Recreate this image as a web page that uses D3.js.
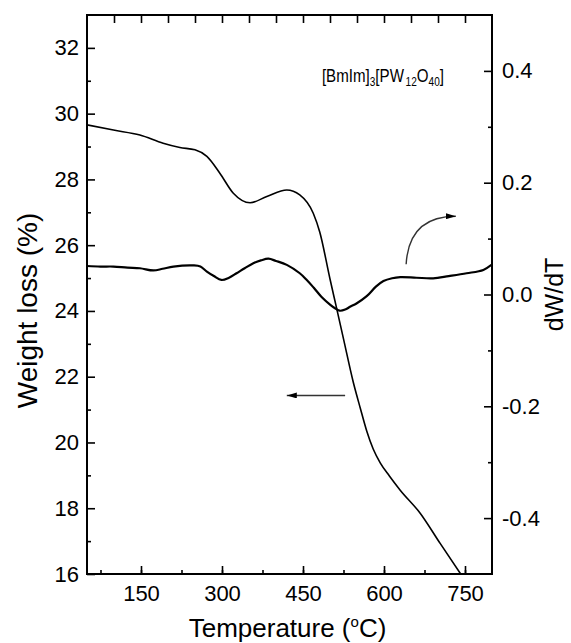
<!DOCTYPE html>
<html>
<head>
<meta charset="utf-8">
<script src="https://cdn.jsdelivr.net/npm/d3@7"></script>
<style>
  body { margin: 0; background: #fff; }
  text { font-family: "Liberation Sans", Arial, sans-serif; fill: #000; }
</style>
</head>
<body>
<div id="chart"></div>
<script>
// weight loss curve (left axis)
var wTemp = [50, 99, 148, 191, 222, 250, 272, 296, 321, 352, 383, 420, 444, 469, 481, 500, 512, 525, 543, 556, 568, 580, 593, 610, 630, 667, 704, 742];
var wLoss = [29.66, 29.5, 29.35, 29.1, 28.97, 28.9, 28.7, 28.19, 27.58, 27.29, 27.48, 27.68, 27.53, 26.97, 26.4, 24.97, 24.1, 23.15, 21.84, 21.05, 20.35, 19.8, 19.38, 18.98, 18.55, 17.85, 16.93, 16.0];

// derivative curve (right axis)
var dTemp = [50, 75, 99, 125, 148, 173, 190, 210, 247, 260, 272, 285, 299, 313, 327, 342, 358, 372, 386, 400, 420, 444, 457, 470, 484, 500, 510, 518, 528, 537, 549, 568, 585, 599, 615, 630, 660, 691, 720, 753, 784, 799];
var dW = [0.051, 0.050, 0.050, 0.048, 0.047, 0.043, 0.046, 0.050, 0.052, 0.050, 0.041, 0.033, 0.026, 0.030, 0.038, 0.047, 0.056, 0.061, 0.064, 0.060, 0.053, 0.038, 0.026, 0.012, -0.004, -0.018, -0.025, -0.029, -0.027, -0.022, -0.016, -0.003, 0.014, 0.024, 0.029, 0.031, 0.030, 0.029, 0.033, 0.038, 0.044, 0.053];

var xTicks = [150, 300, 450, 600, 750];
var yLeftTicks = [16, 18, 20, 22, 24, 26, 28, 30, 32];
var yRightTicks = [-0.4, -0.2, 0.0, 0.2, 0.4];

var margin = { top: 15, right: 79, bottom: 69, left: 87 };
var W = 571, H = 643;
var width = W - margin.left - margin.right;
var height = H - margin.top - margin.bottom;

var svg = d3.select('#chart')
  .append('svg')
    .attr('width', W)
    .attr('height', H)
  .append('g')
    .attr('transform', `translate(${margin.left}, ${margin.top})`);

var x = d3.scaleLinear().domain([50, 800]).range([0, width]);
var yL = d3.scaleLinear().domain([16, 33]).range([height, 0]);
var yR = d3.scaleLinear().domain([-0.5, 0.5]).range([height, 0]);

// plain hyphen for negatives, like the original
var fmt1 = d => d3.format('.1f')(d).replace('\u2212', '-');

// axes, ticks point inward
function styleAxis (g) {
  g.select('.domain').remove();
  g.selectAll('.tick line').attr('stroke', '#000').attr('stroke-width', 1.6);
  g.selectAll('.tick text').style('font-size', '22px');
}

svg.append('g')
  .attr('transform', `translate(0, ${height})`)
  .call(d3.axisBottom(x).tickValues(d3.range(75, 800, 75)).tickSize(-4).tickFormat(''))
  .call(styleAxis);
svg.append('g')
  .attr('transform', `translate(0, ${height})`)
  .call(d3.axisBottom(x).tickValues(xTicks).tickSize(-8).tickPadding(11))
  .call(styleAxis);

svg.append('g')
  .call(d3.axisTop(x).tickValues(d3.range(100, 800, 50)).tickSize(-8).tickFormat(''))
  .call(styleAxis);

svg.append('g')
  .call(d3.axisLeft(yL).tickValues(d3.range(17, 33, 2)).tickSize(-4).tickFormat(''))
  .call(styleAxis);
svg.append('g')
  .call(d3.axisLeft(yL).tickValues(yLeftTicks).tickSize(-8).tickPadding(8))
  .call(styleAxis);

svg.append('g')
  .attr('transform', `translate(${width}, 0)`)
  .call(d3.axisRight(yR).tickValues([-0.3, -0.1, 0.1, 0.3]).tickSize(-4).tickFormat(''))
  .call(styleAxis);
svg.append('g')
  .attr('transform', `translate(${width}, 0)`)
  .call(d3.axisRight(yR).tickValues(yRightTicks).tickSize(-8).tickPadding(10).tickFormat(fmt1))
  .call(styleAxis);

// frame
svg.append('rect')
  .attr('width', width)
  .attr('height', height)
  .attr('fill', 'none')
  .attr('stroke', '#000')
  .attr('stroke-width', 2);

svg.append('clipPath').attr('id', 'clip')
  .append('rect').attr('width', width).attr('height', height);

var wLine = d3.line()
  .x(i => x(wTemp[i]))
  .y(i => yL(wLoss[i]))
  .curve(d3.curveMonotoneX);

var dLine = d3.line()
  .x(i => x(dTemp[i]))
  .y(i => yR(dW[i]))
  .curve(d3.curveCatmullRom.alpha(0.5));

svg.append('path')
  .attr('clip-path', 'url(#clip)')
  .attr('d', wLine(d3.range(wTemp.length)))
  .attr('fill', 'none')
  .attr('stroke', '#000')
  .attr('stroke-width', 1.6);

svg.append('path')
  .attr('clip-path', 'url(#clip)')
  .attr('d', dLine(d3.range(dTemp.length)))
  .attr('fill', 'none')
  .attr('stroke', '#000')
  .attr('stroke-width', 2.2);

// arrows
svg.append('defs').append('marker')
  .attr('id', 'head')
  .attr('viewBox', '0 0 10 6')
  .attr('refX', 10).attr('refY', 3)
  .attr('markerWidth', 10).attr('markerHeight', 6)
  .attr('markerUnits', 'userSpaceOnUse')
  .attr('orient', 'auto')
  .append('path').attr('d', 'M0,0 L10,3 L0,6 Z').attr('fill', '#000');

svg.append('line')
  .attr('x1', x(528)).attr('y1', yL(21.43))
  .attr('x2', x(420)).attr('y2', yL(21.43))
  .attr('stroke', '#333').attr('stroke-width', 1.4)
  .attr('marker-end', 'url(#head)');

svg.append('path')
  .attr('d', `M${x(641)},${yR(0.054)} Q${x(646)},${yR(0.14)} ${x(733)},${yR(0.14)}`)
  .attr('fill', 'none')
  .attr('stroke', '#333').attr('stroke-width', 1.4)
  .attr('marker-end', 'url(#head)');

// compound label, a bit condensed like the original
var lab = svg.append('text')
  .attr('transform', `translate(${x(485)}, ${yL(30.97)}) scale(0.84, 1)`)
  .style('font-size', '18px');
lab.append('tspan').text('[BmIm]');
lab.append('tspan').attr('dy', 4).style('font-size', '12px').text('3');
lab.append('tspan').attr('dy', -4).text('[PW');
lab.append('tspan').attr('dy', 4).attr('dx', 2).style('font-size', '12px').text('12');
lab.append('tspan').attr('dy', -4).text('O');
lab.append('tspan').attr('dy', 4).style('font-size', '12px').text('40');
lab.append('tspan').attr('dy', -4).text(']');

// axis titles
var xt = svg.append('text')
  .attr('x', width / 2 - 2)
  .attr('y', height + 63)
  .attr('text-anchor', 'middle')
  .style('font-size', '26px');
xt.append('tspan').text('Temperature (');
xt.append('tspan').attr('dy', -10).style('font-size', '15px').text('o');
xt.append('tspan').attr('dy', 10).text('C)');

svg.append('text')
  .attr('transform', `translate(${-50}, ${height / 2 + 16}) rotate(-90)`)
  .attr('text-anchor', 'middle')
  .style('font-size', '28px')
  .text('Weight loss (%)');

svg.append('text')
  .attr('transform', `translate(${width + 71}, ${yR(0.0)}) rotate(-90)`)
  .attr('text-anchor', 'middle')
  .style('font-size', '25px')
  .text('dW/dT');
</script>
</body>
</html>
